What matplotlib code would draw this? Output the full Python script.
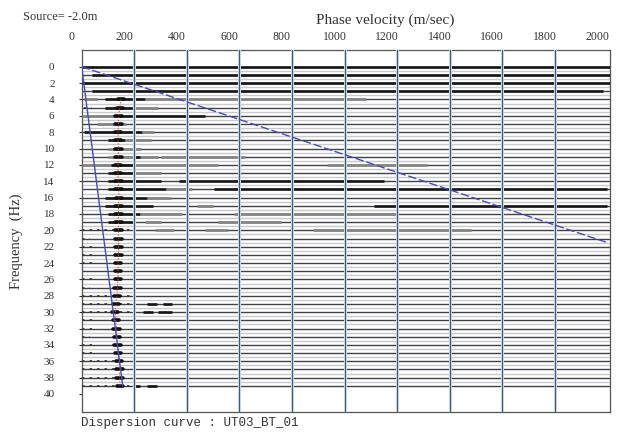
import matplotlib
matplotlib.use("Agg")
import matplotlib.pyplot as plt
from matplotlib.transforms import ScaledTranslation
import numpy as np

# trace frequencies (Hz) and axis ticks
freqs = np.arange(0, 40)
x_ticks = [0, 200, 400, 600, 800, 1000, 1200, 1400, 1600, 1800, 2000]
y_ticks = list(range(0, 41, 2))

# high-amplitude parts of the traces: (freq, v_start, v_end, kind)
# kind: k = black, g = gray, d = dashed black marks
segments = [
    (0, 0, 2010, 'k'), (1, 40, 2010, 'k'), (2, 0, 2010, 'k'), (3, 40, 1985, 'k'),
    (4, 10, 60, 'g'), (4, 90, 240, 'k'), (4, 240, 1080, 'g'),
    (5, 10, 40, 'd'), (5, 90, 200, 'k'), (5, 200, 290, 'g'),
    (6, 0, 145, 'g'), (6, 145, 470, 'k'),
    (7, 60, 170, 'g'),
    (8, 10, 230, 'k'), (8, 230, 275, 'g'),
    (9, 100, 165, 'k'), (9, 165, 265, 'g'),
    (10, 100, 225, 'g'),
    (11, 100, 290, 'g'), (11, 200, 220, 'k'), (11, 300, 620, 'g'),
    (12, 0, 517, 'g'), (12, 110, 200, 'k'), (12, 935, 1315, 'g'),
    (13, 100, 200, 'k'), (13, 200, 300, 'g'),
    (14, 100, 300, 'k'), (14, 370, 1150, 'k'),
    (15, 100, 320, 'k'), (15, 320, 420, 'g'), (15, 505, 2000, 'k'),
    (16, 90, 250, 'k'), (16, 250, 340, 'g'),
    (17, 90, 270, 'k'), (17, 440, 500, 'g'), (17, 1113, 2000, 'k'),
    (18, 100, 220, 'k'), (18, 220, 380, 'g'), (18, 580, 1200, 'g'),
    (19, 100, 200, 'k'), (19, 240, 300, 'g'), (19, 517, 757, 'g'),
    (20, 0, 200, 'd'), (20, 277, 353, 'g'), (20, 471, 555, 'g'), (20, 880, 1480, 'g'),
    (21, 0, 30, 'd'), (22, 0, 60, 'd'), (23, 0, 40, 'd'), (24, 0, 60, 'd'),
    (26, 0, 50, 'd'), (27, 0, 30, 'd'),
    (28, 0, 195, 'd'), (29, 0, 195, 'd'), (29, 250, 285, 'k'), (29, 310, 343, 'k'),
    (30, 0, 195, 'd'), (30, 233, 270, 'k'), (30, 290, 343, 'k'),
    (31, 0, 60, 'd'), (32, 0, 40, 'd'), (33, 0, 30, 'd'), (34, 0, 50, 'd'),
    (35, 0, 60, 'd'), (36, 0, 150, 'd'), (37, 0, 150, 'd'), (38, 0, 150, 'd'),
    (39, 0, 195, 'd'), (39, 195, 220, 'k'), (39, 248, 285, 'k'),
]

# picked dispersion curve (m/s)
pick_freq = list(range(4, 40))
pick_vel = [150, 145, 140, 140, 138, 138, 140, 140, 138, 138, 140, 140,
            142, 140, 140, 140, 140, 140, 140, 140, 138, 138, 138, 136,
            134, 130, 128, 130, 132, 134, 136, 138, 142, 144, 144, 146]

# wavelength limit lines (phase velocity vs frequency)
long_line_v = [0, 2000]
long_line_f = [0, 21.5]
short_line_v = [0, 156]
short_line_f = [0, 39]

fig = plt.figure(figsize=(6.21, 4.33), dpi=100)
W, H = 621, 433
ax = fig.add_axes([81.7 / W, 21 / H, (610 - 81.7) / W, (412 - 50) / H])

ax.set_xlim(0, 2010)
ax.set_ylim(42.2, -2.04)

# trace baselines
ax.hlines(freqs, 0, 2010, color='#3c4248', lw=1.0, zorder=2)
ax.hlines(freqs[:-1] + 0.5, 0, 2010, color='#cacaca', lw=1.0, zorder=1)

styles = {
    'k': dict(color='#151515', lw=1.9),
    'g': dict(color='#858585', lw=2.0),
    'd': dict(color='#333333', lw=1.2, linestyle=(0, (1.5, 3))),
}
for f, v0, v1, kind in segments:
    ax.plot([v0, v1], [f, f], solid_capstyle='butt', zorder=3, **styles[kind])

# amplitude blobs around the picked curve
for f, v in zip(pick_freq, pick_vel):
    ax.plot([v - 12, v + 12], [f, f], color='#101010', lw=2.6,
            solid_capstyle='round', zorder=4)

ax.plot(pick_vel, pick_freq, color='#d04848', lw=0.8, linestyle=':', zorder=5)

# vertical grid
for v in x_ticks[1:-1]:
    ax.axvline(v, color='#dbe7f3', lw=2.2, zorder=5)
    ax.axvline(v, color='#3d5a78', lw=0.9, zorder=6)

ax.plot(long_line_v, long_line_f, color='#4a4ab8', lw=1.0,
        linestyle=(0, (6, 2)), zorder=7)
ax.plot(short_line_v, short_line_f, color='#4a4ab8', lw=1.0, zorder=7)

for s in ax.spines.values():
    s.set_color('#555555')
    s.set_linewidth(0.9)

serif = 'Liberation Serif'
ax.xaxis.tick_top()
ax.set_xticks(x_ticks)
ax.set_xticklabels([str(t) for t in x_ticks], fontsize=8.5, family=serif, color='#333333')
ax.tick_params(axis='x', length=0, pad=5)
shift = ScaledTranslation(-10 / 100, 0, fig.dpi_scale_trans)
for lab in ax.get_xticklabels():
    lab.set_transform(lab.get_transform() + shift)

ax.set_yticks(y_ticks)
ax.set_yticklabels([str(t) for t in y_ticks], fontsize=8, family=serif, color='#333333')
ax.tick_params(axis='y', direction='out', length=2.5, width=0.8, color='#333333', pad=17)

fig.text(16 / W, 1 - 241 / H, 'Frequency  (Hz)', rotation=90, ha='center', va='center',
         fontsize=10.5, family=serif, color='#333333')
fig.text(385 / W, 1 - 20 / H, 'Phase velocity (m/sec)', ha='center', va='center',
         fontsize=11, family=serif, color='#333333')
fig.text(23 / W, 1 - 17 / H, 'Source= -2.0m', ha='left', va='center',
         fontsize=9, family=serif, color='#333333')
fig.text(81 / W, 1 - 423 / H, 'Dispersion curve : UT03_BT_01', ha='left', va='center',
         fontsize=9, family='Liberation Mono', color='#333333')

fig.savefig('out.png', dpi=100)
